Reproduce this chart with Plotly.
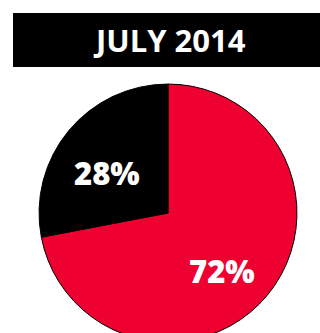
import plotly.graph_objects as go

# Monthly split shown as a two-slice pie
segments = ["Majority", "Remainder"]
shares = [72, 28]
slice_colors = ["#ee0030", "#000000"]
title_text = "JULY 2014"

W, H = 320, 342

fig = go.Figure(
    go.Pie(
        labels=segments,
        values=shares,
        sort=False,
        direction="clockwise",
        rotation=0,
        marker=dict(colors=slice_colors, line=dict(color="#000000", width=1)),
        textinfo="none",
        hoverinfo="label+value",
        showlegend=False,
        domain=dict(x=[0.122, 0.928], y=[0.0, 0.7544]),
    )
)

# Percentage labels placed inside each slice (pixel positions from the top-left)
label_px = [(222, 271), (107, 173)]
for value, (px, py) in zip(shares, label_px):
    fig.add_annotation(
        text=f"{value}%", xref="paper", yref="paper",
        x=px / W, y=(H - py) / H, xanchor="center", yanchor="middle",
        showarrow=False,
        font=dict(family="Open Sans", size=31, color="#ffffff", weight=800),
    )

# Black title banner across the top
fig.add_shape(
    type="rect", xref="paper", yref="paper",
    x0=13 / W, x1=1.0, y0=(H - 67) / H, y1=(H - 13) / H,
    fillcolor="#000000", line=dict(width=0), layer="below",
)
fig.add_annotation(
    text=title_text, xref="paper", yref="paper",
    x=169 / W, y=(H - 40) / H, xanchor="center", yanchor="middle",
    showarrow=False,
    font=dict(family="Open Sans", size=31, color="#ffffff", weight=700),
)

fig.update_layout(
    width=W, height=H,
    margin=dict(l=0, r=0, t=0, b=0),
    paper_bgcolor="#ffffff",
    plot_bgcolor="#ffffff",
)

fig.write_html(
    "out.html",
    post_script="document.documentElement.style.overflow='hidden';document.body.style.overflow='hidden';document.body.style.margin='0';",
)
